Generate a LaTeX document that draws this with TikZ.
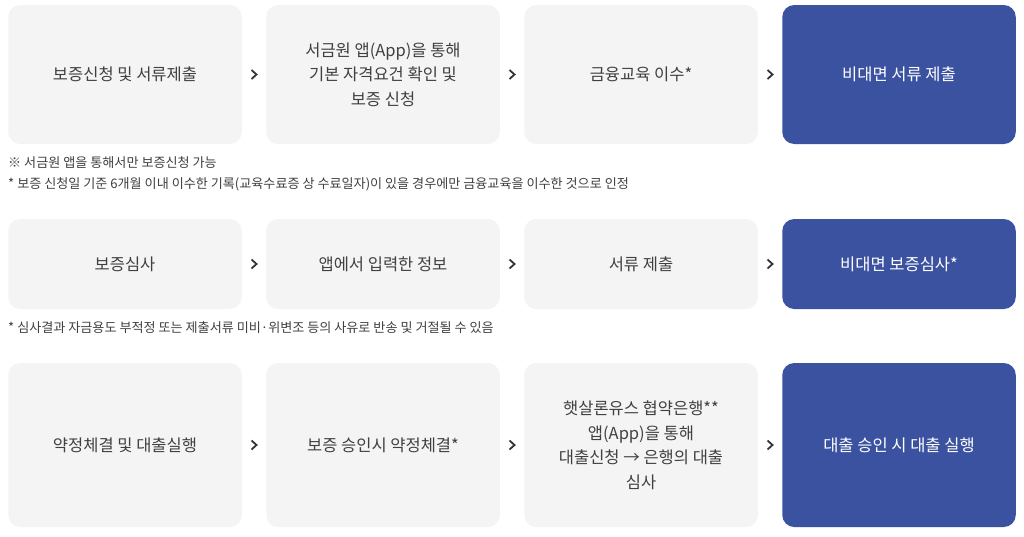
\documentclass[tikz,border=0pt]{standalone}
\usepackage{fontspec}
\setmainfont{Noto Sans CJK KR}
\usetikzlibrary{positioning}
\usetikzlibrary{calc}
\definecolor{boxgray}{HTML}{F4F4F4}
\definecolor{boxblue}{HTML}{3B52A0}
\definecolor{txtgray}{HTML}{404040}
\tikzset{
    stepbox/.style={fill=boxgray, text=txtgray, rounded corners=12pt,
        minimum width=233.5pt, inner sep=0pt, outer sep=0pt, align=center,
        font=\fontsize{16.5}{24.5}\selectfont},
    endbox/.style={stepbox, fill=boxblue, text=white},
    rowone/.style={minimum height=139pt},
    rowtwo/.style={minimum height=90pt},
    rowthree/.style={minimum height=164pt},
    chevron/.style={draw=black!80, line width=1.8pt, line join=miter},
    note/.style={anchor=west, text=txtgray, inner sep=0pt,
        font=\fontsize{13.1}{15}\selectfont},
}

\begin{document}
\begin{tikzpicture}[x=1pt, y=1pt, node distance=24.5pt]
		\fill[white] (0,0) rectangle (1024,-536);
		\useasboundingbox (0,0) rectangle (1024,-536);
		% first row
		\node[stepbox, rowone] (a1) at (125,-74.5) {보증신청 및 서류제출};
		\node[stepbox, rowone, right=of a1] (a2) {서금원 앱(App)을 통해\\기본 자격요건 확인 및\\보증 신청};
		\node[stepbox, rowone, right=of a2] (a3) {금융교육 이수*};
		\node[endbox, rowone, right=of a3] (a4) {비대면 서류 제출};
		\node[note] (n1) at (8,-162.5) {※ 서금원 앱을 통해서만 보증신청 가능};
		\node[note] (n2) at (8,-184.5) {* 보증 신청일 기준 6개월 이내 이수한 기록(교육수료증 상 수료일자)이 있을 경우에만 금융교육을 이수한 것으로 인정};
		% second row
		\node[stepbox, rowtwo] (b1) at (125,-264) {보증심사};
		\node[stepbox, rowtwo, right=of b1] (b2) {앱에서 입력한 정보};
		\node[stepbox, rowtwo, right=of b2] (b3) {서류 제출};
		\node[endbox, rowtwo, right=of b3] (b4) {비대면 보증심사*};
		\node[note] (n3) at (8,-328) {* 심사결과 자금용도 부적정 또는 제출서류 미비·위변조 등의 사유로 반송 및 거절될 수 있음};
		% third row
		\node[stepbox, rowthree] (c1) at (125,-445) {약정체결 및 대출실행};
		\node[stepbox, rowthree, right=of c1] (c2) {보증 승인시 약정체결*};
		\node[stepbox, rowthree, right=of c2] (c3) {햇살론유스 협약은행**\\앱(App)을 통해\\대출신청 → 은행의 대출\\심사};
		\node[endbox, rowthree, right=of c3] (c4) {대출 승인 시 대출 실행};
		\foreach \r in {a,b,c}
			\foreach \i/\j in {1/2,2/3,3/4}
				\draw[chevron] ($(\r\i.east)!.5!(\r\j.west)$) ++(-2.5,4.5) -- ++(5,-4.5) -- ++(-5,-4.5);
\end{tikzpicture}
\end{document}
